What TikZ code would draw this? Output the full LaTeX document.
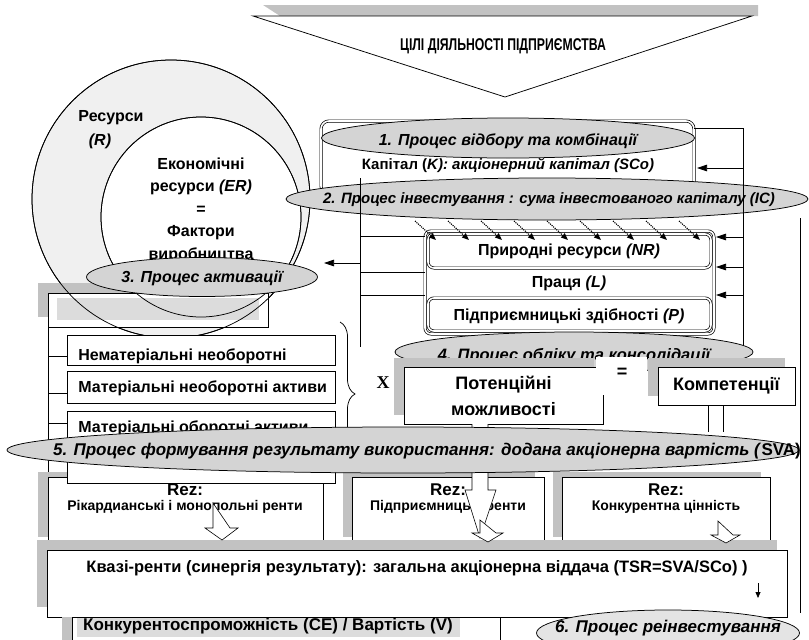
\documentclass[tikz,border=0pt]{standalone}
\usepackage{fontspec}
\setmainfont{Liberation Sans}
\newfontfamily\serifx{Liberation Serif}
\newfontfamily\narrowx[FakeStretch=0.72]{Liberation Sans}
\usetikzlibrary{shapes.geometric,arrows.meta,decorations.pathreplacing}
\definecolor{ellgray}{HTML}{D4D4D4}
\definecolor{ell6}{HTML}{E4E4E4}
\definecolor{hatch}{HTML}{C2C2C2}
\definecolor{ringgray}{HTML}{F0F0F0}
\definecolor{boxgray}{HTML}{DCDCDC}
\begin{document}
\begin{tikzpicture}[x=1pt,y=-1pt, line width=0.75pt,
  txt/.style={inner sep=0pt, align=center, font=\bfseries\fontsize{16}{19}\selectfont},
  proc/.style={ellipse, draw, fill=ellgray, inner sep=0pt},
  ptxt/.style={inner sep=0pt, font=\bfseries\itshape\fontsize{16}{19}\selectfont},
  dbl/.style={double, double distance=1.6pt, line width=0.7pt},
  larr/.style={-{Triangle[length=10pt,width=6.5pt]}},
  darr/.style={densely dotted, line width=1.1pt, -{Triangle[length=7pt,width=5.5pt]}},
  blockarr/.style={draw, fill=white, line width=0.6pt}
]
\useasboundingbox (0,0) rectangle (809,640);
\clip (0,0) rectangle (809,640);

% ---- goals banner
\fill[hatch] (263,5) -- (758,5) -- (758,16) -- (280,16) -- cycle;
\draw[fill=white] (253,16) coordinate (bl) -- (752,16) coordinate (br) -- (505,97) coordinate (bt) -- cycle;
\node[inner sep=0pt, font=\narrowx\bfseries\fontsize{17}{20}\selectfont] (goal) at (503,46) {ЦІЛІ ДІЯЛЬНОСТІ ПІДПРИЄМСТВА};

% ---- resources circles
\node[circle, draw, fill=ringgray, minimum size=278pt, inner sep=0pt] (res) at (171,199) {};
\node[circle, draw, fill=white, minimum size=200pt, inner sep=0pt] (er) at (201,217) {};

% left upper box (partly hidden)
\fill[hatch] (38,283) rectangle (258,317);
\draw[fill=white] (48,293) rectangle (268,327);
\fill[boxgray] (57,298) rectangle (259,320);
\draw (171,199) circle[radius=139pt];
\draw (201,217) circle[radius=100pt];

\node[txt] (restxt) at (111,118) {Ресурси};
\node[txt, font=\bfseries\itshape\fontsize{16}{19}\selectfont] (rtxt) at (100,141) {(R)};
\node[txt, font=\bfseries\fontsize{16}{22.5}\selectfont] (ertxt) at (201,210)
  {Економічні\\ресурси \textit{(ER)}\\=\\Фактори\\виробництва};

\node[proc, minimum width=231pt, minimum height=39pt] (p3) at (202,277) {};
\node[ptxt] (p3t) at (202,278) {3. Процес активації};

% ---- capital box and processes 1, 2
\draw[dbl, rounded corners=8pt, fill=white] (321,121) rectangle (694,194);
\node[txt, font=\bfseries\fontsize{15}{18}\selectfont] (cap) at (508,165) {Капітал (\textit{K): акціонерний капітал (SCo)}};
\node[proc, minimum width=373pt, minimum height=40pt] (p1) at (508,138) {};
\node[ptxt] (p1t) at (508,141) {1. Процес відбору та комбінації};
\node[proc, minimum width=522pt, minimum height=42pt] (p2) at (547,199) {};
\node[ptxt, font=\bfseries\itshape\fontsize{15}{18}\selectfont] (p2t) at (549,200) {2. Процес інвестування : сума інвестованого капіталу (IC)};

% ---- factor boxes
\draw[dbl, rounded corners=6pt, fill=white] (425,231) rectangle (714,334);
\draw[dbl, rounded corners=6pt] (428,234) rectangle (711,268);
\draw[dbl, rounded corners=6pt] (428,298) rectangle (711,331);
\node[txt] (nr) at (569,251) {Природні ресурси \textit{(NR)}};
\node[txt] (lab) at (569,283) {Праця \textit{(L)}};
\node[txt] (ent) at (569,316) {Підприємницькі здібності \textit{(P)}};

\foreach \k in {0,...,8}
  \draw[darr] ({415+33*\k},221) -- ({436+33*\k},240);

% ---- frame lines and arrows
\coordinate (lt) at (360,178);
\coordinate (lb) at (360,347);
\draw (lt) -- (lb);
\draw (360,236) -- (425,236);
\draw (360,272) -- (425,272);
\draw (360,295) -- (425,295);
\draw[larr] (360,263) -- (324,263);

\coordinate (rt) at (743,128);
\draw (694,128) -- (rt) -- (743,355);
\draw[larr] (743,168) -- (697,168);
\draw[larr] (743,237) -- (716,237);
\draw[larr] (743,267) -- (716,267);
\draw[larr] (743,295) -- (716,295);

% ---- process 4 and capabilities
\node[proc, minimum width=358pt, minimum height=40pt] (p4) at (574,352) {};
\node[ptxt, font=\bfseries\itshape\fontsize{16.5}{19}\selectfont] (p4t) at (574,356) {4. Процес обліку та консолідації};

\fill[hatch] (394,358) rectangle (594,415);
\node[draw, fill=white, minimum width=199pt, minimum height=57pt, inner sep=0pt,
      align=center, font=\bfseries\fontsize{18}{26}\selectfont] (pot) at (503.5,395.5) {Потенційні\\можливості};
\fill[white] (596,357) rectangle (647,395);
\node[txt, font=\bfseries\fontsize{18}{20}\selectfont] (eq) at (622,373) {=};
\fill[hatch] (648,358) rectangle (785,396);
\node[draw, fill=white, minimum width=137pt, minimum height=38pt, inner sep=0pt,
      font=\bfseries\fontsize{18}{20}\selectfont] (comp) at (726.5,386) {Компетенції};

\node[inner sep=0pt, font=\serifx\bfseries\fontsize{18}{20}\selectfont] (xx) at (383,383) {X};
\draw[decorate, decoration={brace, amplitude=15pt}] (340,322) -- (340,466);

% ---- left asset list
\draw (48,327) -- (48,477);
\foreach \yy in {356,393,423,455} \draw (48,\yy) -- (67,\yy);
\draw[fill=white] (67,335) rectangle (335,365);
\begin{scope}
  \clip (67,335) rectangle (335,364);
  \node[txt, anchor=west] (a1) at (78,356) {Нематеріальні необоротні};
\end{scope}
\draw[fill=white] (67,371) rectangle (335,403);
\node[txt, anchor=west] (a2) at (78,388) {Матеріальні необоротні активи};

% ---- results boxes
\fill[hatch] (38,472) rectangle (313,537);
\draw[fill=white] (48,477) rectangle (323,542);
\node[txt, font=\bfseries\fontsize{17}{20}\selectfont] (rz1) at (185,490) {Rez:};
\node[txt, font=\bfseries\fontsize{14}{16}\selectfont] (rt1) at (185,507) {Рікардианські і монопольні ренти};

\fill[hatch] (343,472) rectangle (535,537);
\draw[fill=white] (352,477) rectangle (544,542);
\node[txt, font=\bfseries\fontsize{17}{20}\selectfont] (rz2) at (448,490) {Rez:};
\node[txt, font=\bfseries\fontsize{14}{16}\selectfont] (rt2) at (448,507) {Підприємницькі ренти};

\fill[hatch] (553,472) rectangle (761,537);
\draw[fill=white] (562,477) rectangle (770,542);
\node[txt, font=\bfseries\fontsize{17}{20}\selectfont] (rz3) at (666,490) {Rez:};
\node[txt, font=\bfseries\fontsize{14}{16}\selectfont] (rt3) at (666,507) {Конкурентна цінність};

% material current assets box (under process 5)
\draw[fill=white] (67,411) rectangle (335,483);
\node[txt, anchor=west] (a3) at (78,428) {Матеріальні оборотні активи};

% ---- quasi rents box
\fill[hatch] (37,540) rectangle (777,607);
\draw[fill=white] (47,550) rectangle (787,617);
\node[txt, font=\bfseries\fontsize{16.5}{19}\selectfont] (quasi) at (417,568) {Квазі-ренти (синергія результату): загальна акціонерна віддача (TSR=SVA/SCo) )};
\draw[-{Triangle[length=6pt,width=5pt]}] (758,583) -- (758,598);

% ---- block arrows
\draw[blockarr] (472,424) -- (472,490) -- (465,490) -- (480,538) -- (496,490) -- (488,490) -- (488,424);
\draw[blockarr] (213,503) -- (213,528) -- (205,528) -- (222,540) -- (238,528) -- (230,528) -- cycle;
\draw[blockarr] (480,520) -- (480,533) -- (472,533) -- (488,542) -- (503,533) -- (496,533) -- cycle;
\draw[blockarr] (718,521) -- (718,535) -- (711,535) -- (726,543) -- (740,535) -- (733,535) -- cycle;
\draw (708,405) -- (708,432);
\draw (723,405) -- (723,432);

% ---- process 5
\node[proc, minimum width=792pt, minimum height=46pt] (p5) at (403,450) {};
\node[ptxt, font=\bfseries\itshape\fontsize{17}{20}\selectfont] (p5t) at (427,451)
  {5. Процес формування результату використання: додана акціонерна вартість (\textup{SVA)}};

% ---- bottom: competitiveness
\fill[hatch] (62,617) rectangle (72,640);
\draw (72,617) -- (72,640);
\draw (500,617) -- (500,640);
\fill[boxgray] (77,618) rectangle (460,637);
\node[txt, font=\bfseries\fontsize{17}{20}\selectfont] (ce) at (268,626) {Конкурентоспроможність (CE) / Вартість (V)};

% right return line and process 6
\draw (800,218) -- (800,613);
\node[ellipse, draw, fill=ell6, minimum width=263pt, minimum height=46pt, inner sep=0pt] (p6) at (668,633) {};
\node[ptxt, font=\bfseries\itshape\fontsize{17}{20}\selectfont] (p6t) at (668,628) {6. Процес реінвестування};
\end{tikzpicture}
\end{document}
